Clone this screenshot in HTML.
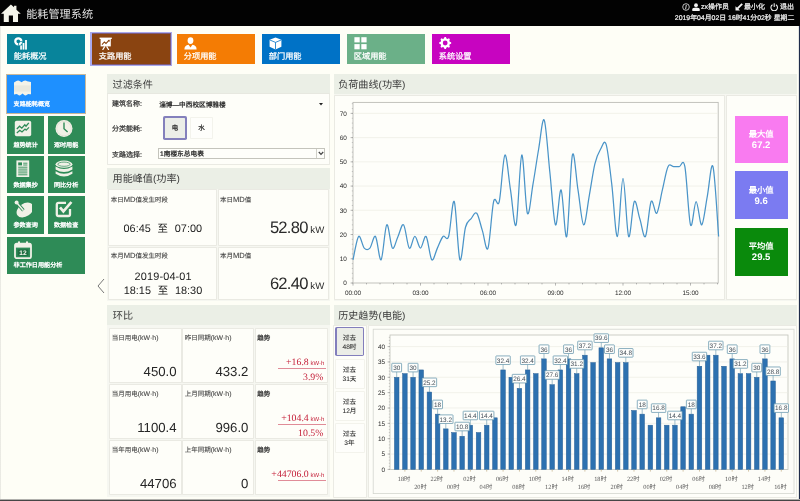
<!DOCTYPE html>
<html lang="zh-CN"><head><meta charset="utf-8"><title>能耗管理系统</title>
<style>
html,body{margin:0;padding:0}
body{width:800px;height:501px;overflow:hidden;position:relative;background:#fefef6;font-family:"Liberation Sans",sans-serif;text-rendering:geometricPrecision}
#root{position:absolute;left:0;top:0;width:800px;height:501px;overflow:hidden;will-change:transform}
#root>div,#root>svg{position:absolute}
.t{white-space:nowrap}
.s{-webkit-text-stroke:0.22px currentColor}
svg text{font-family:"Liberation Sans",sans-serif;text-rendering:geometricPrecision}
</style></head><body><div id="root">
<div style="left:0.00px;top:0.00px;width:800.00px;height:25.70px;background:#020202;"></div>
<svg style="left:1.2px;top:3.5px" width="19.8" height="18" viewBox="0 0 20 18"><path fill="#f4f4ea" d="M10 0.3 L13.2 3.3 L13.2 1.6 L15.6 1.6 L15.6 5.6 L20 9.8 L17.2 9.8 L17.2 18 L12.1 18 L12.1 11.6 L7.9 11.6 L7.9 18 L2.8 18 L2.8 9.8 L0 9.8 Z"/></svg>
<div class="t" style="left:26.20px;top:10.00px;font-size:11.15px;line-height:11.15px;color:#e6e6e6;">能耗管理系统</div>
<svg style="left:682px;top:3px" width="8" height="8" viewBox="0 0 8 8"><circle cx="4" cy="4" r="3.3" fill="none" stroke="#eee" stroke-width="0.8"/><path d="M4.3 2 L3.6 6.2" stroke="#eee" stroke-width="0.9"/></svg>
<svg style="left:692px;top:3px" width="8" height="8" viewBox="0 0 8 8"><circle cx="4" cy="2.2" r="1.9" fill="#f4f4f4"/><path d="M0.3 8 L0.3 6.2 Q0.3 4.4 4 4.4 Q7.7 4.4 7.7 6.2 L7.7 8 Z" fill="#f4f4f4"/></svg>
<div class="t s" style="left:701.00px;top:4.20px;font-size:7px;line-height:7px;color:#f2f2f2;">zx操作员</div>
<svg style="left:735px;top:3.4px" width="8" height="8" viewBox="0 0 8 8"><path d="M0.5 7.6 L0.5 3.2 L5 7.6 Z" fill="#f4f4f4"/><path d="M2.4 5.6 L7.2 0.9" stroke="#f4f4f4" stroke-width="1.9"/></svg>
<div class="t s" style="left:744.00px;top:4.20px;font-size:7px;line-height:7px;color:#f2f2f2;">最小化</div>
<svg style="left:769.6px;top:2.8px" width="8.4" height="8.4" viewBox="0 0 8 8"><path d="M2.4 1.6 A3.1 3.1 0 1 0 5.6 1.6" fill="none" stroke="#f4f4f4" stroke-width="1"/><path d="M4 0.2 L4 3.8" stroke="#f4f4f4" stroke-width="1"/></svg>
<div class="t s" style="left:780.00px;top:4.20px;font-size:7px;line-height:7px;color:#f2f2f2;">退出</div>
<div class="t s" style="right:5.70px;top:16.40px;font-size:6.9px;line-height:6.9px;color:#f2f2f2;">2019年04月02日 16时41分02秒 星期二</div>
<div style="left:7.00px;top:34.00px;width:78.00px;height:30.20px;background:#08849b;"></div>
<svg style="left:13.6px;top:37.1px" width="13" height="13" viewBox="0 0 13 13"><circle cx="4.3" cy="4.3" r="3" fill="none" stroke="#fff" stroke-width="2.3"/><path d="M4.6 4.6 L8.6 4.6 M4.6 4.6 L4.6 8.6" stroke="#08849b" stroke-width="0.8"/><rect x="6.2" y="8.4" width="1.7" height="4.2" fill="#fff"/><rect x="8.6" y="6" width="1.8" height="6.6" fill="#fff"/><rect x="11.1" y="3" width="1.8" height="9.6" fill="#fff"/></svg>
<div class="t s" style="left:13.80px;top:53.10px;font-size:8.2px;line-height:8.2px;color:#fff;">能耗概况</div>
<div style="left:90.30px;top:32.00px;width:81.60px;height:33.80px;background:#a9a9ee;"></div>
<div style="left:91.50px;top:33.20px;width:79.10px;height:31.50px;background:#7d5a7a;"></div>
<div style="left:92.00px;top:34.00px;width:78.00px;height:30.20px;background:#8a4411;"></div>
<svg style="left:98.6px;top:37.1px" width="13" height="13" viewBox="0 0 13 13"><rect x="0.6" y="0.6" width="12.2" height="1.4" fill="#fff"/><rect x="1.6" y="2" width="10.2" height="7.4" fill="#fff"/><path d="M3 7.6 L5.4 5 L7 6.4 L10 3.4" stroke="#8a4411" stroke-width="1.1" fill="none"/><path d="M10.6 2.8 L10.6 5 L8.6 3 Z" fill="#8a4411"/><path d="M5.8 9.4 L3.6 13 M7.6 9.4 L9.8 13" stroke="#fff" stroke-width="1.2"/></svg>
<div class="t s" style="left:98.80px;top:53.10px;font-size:8.2px;line-height:8.2px;color:#fff;">支路用能</div>
<div style="left:177.00px;top:34.00px;width:78.00px;height:30.20px;background:#f47c04;"></div>
<svg style="left:183.6px;top:37.1px" width="13" height="13" viewBox="0 0 13 13"><ellipse cx="6.5" cy="3.6" rx="2.9" ry="3.4" fill="#fff"/><path d="M0.4 12.6 Q0.4 8.2 4.6 7.8 L6.5 10.4 L8.4 7.8 Q12.6 8.2 12.6 12.6 Z" fill="#fff"/></svg>
<div class="t s" style="left:183.80px;top:53.10px;font-size:8.2px;line-height:8.2px;color:#fff;">分项用能</div>
<div style="left:262.00px;top:34.00px;width:78.00px;height:30.20px;background:#0072c6;"></div>
<svg style="left:268.6px;top:37.1px" width="13" height="13" viewBox="0 0 13 13"><path d="M6.5 0.4 L12.4 2.8 L12.4 9.8 L6.5 12.6 L0.6 9.8 L0.6 2.8 Z" fill="#fff"/><path d="M0.9 3 L6.5 5.4 L12.1 3 M6.5 5.4 L6.5 12.4" stroke="#0072c6" stroke-width="0.8" fill="none"/></svg>
<div class="t s" style="left:268.80px;top:53.10px;font-size:8.2px;line-height:8.2px;color:#fff;">部门用能</div>
<div style="left:347.00px;top:34.00px;width:78.00px;height:30.20px;background:#6bb088;"></div>
<svg style="left:353.6px;top:37.1px" width="13" height="13" viewBox="0 0 13 13"><rect x="0.4" y="0.2" width="5.3" height="5.2" fill="#fff"/><rect x="7.3" y="0.2" width="5.3" height="5.2" fill="#fff"/><rect x="0.4" y="7.1" width="5.3" height="5.2" fill="#fff"/><rect x="7.3" y="7.1" width="5.3" height="5.2" fill="#fff"/></svg>
<div class="t s" style="left:353.80px;top:53.10px;font-size:8.2px;line-height:8.2px;color:#fff;">区域用能</div>
<div style="left:432.00px;top:34.00px;width:78.00px;height:30.20px;background:#c704c0;"></div>
<svg style="left:438.6px;top:37.1px" width="13" height="13" viewBox="0 0 13 13"><path d="M12.16 5.34 L12.16 6.66 L10.71 7.31 L10.32 8.26 L10.88 9.75 L9.95 10.68 L8.46 10.12 L7.51 10.51 L6.86 11.96 L5.54 11.96 L4.89 10.51 L3.94 10.12 L2.45 10.68 L1.52 9.75 L2.08 8.26 L1.69 7.31 L0.24 6.66 L0.24 5.34 L1.69 4.69 L2.08 3.74 L1.52 2.25 L2.45 1.32 L3.94 1.88 L4.89 1.49 L5.54 0.04 L6.86 0.04 L7.51 1.49 L8.46 1.88 L9.95 1.32 L10.88 2.25 L10.32 3.74 L10.71 4.69 Z" fill="#fff"/><circle cx="6.2" cy="6.0" r="2.4" fill="#c704c0"/></svg>
<div class="t s" style="left:438.80px;top:53.10px;font-size:8.2px;line-height:8.2px;color:#fff;">系统设置</div>
<div style="left:5.60px;top:73.60px;width:80.80px;height:40.40px;background:#c8b89a;"></div>
<div style="left:6.60px;top:74.60px;width:78.80px;height:38.40px;background:#1e90ff;"></div>
<svg style="left:13.8px;top:80px" width="17.2" height="15.8" viewBox="0 0 17.2 15.8"><path fill="#f3f3e9" d="M0 2.4 L2 1.2 Q4.2 -0.4 6 1.2 L7.6 2.3 L9.4 1.1 Q11.2 -0.4 13.2 1.2 L17.2 2 L17.2 14.4 L15.6 14.2 Q14.2 13.8 13 14.8 Q11.4 16.2 10 14.8 L8.6 13.6 L7 14.8 Q5.4 16.2 4 14.8 Q2.8 13.8 1.4 14.2 L0 14.6 Z"/><path d="M0 5.4 L17.2 5.4 L17.2 11.6 L0 11.6 Z" fill="#e9e9de"/></svg>
<div class="t s" style="left:13.60px;top:101.60px;font-size:6.1px;line-height:6.1px;color:#fff;text-shadow:0 0 0.6px rgba(255,255,255,.75)">支路能耗概览</div>
<div style="left:7.00px;top:116.20px;width:37.30px;height:37.40px;background:#2e8b57;"></div>
<svg style="left:14.0px;top:119.8px" width="18" height="18" viewBox="0 0 18 18"><rect x="0.8" y="0.8" width="16.4" height="15.4" rx="1.8" fill="#f1f1e7"/><path d="M2.8 9 L5.6 6.2 L7.8 8.2 L10.8 4.8 L12 6.2 L14.8 2.8" stroke="#2e8b57" stroke-width="1.3" fill="none"/><path d="M2.8 13 L5.8 10.2 L8 12 L11 9 L12.2 10.2 L15 7.4" stroke="#2e8b57" stroke-width="1.2" fill="none"/></svg>
<div class="t s" style="left:13.40px;top:142.70px;font-size:6.1px;line-height:6.1px;color:#fff;text-shadow:0 0 0.6px rgba(255,255,255,.75)">趋势统计</div>
<div style="left:47.50px;top:116.20px;width:37.30px;height:37.40px;background:#2e8b57;"></div>
<svg style="left:54.5px;top:119.8px" width="18" height="18" viewBox="0 0 18 18"><circle cx="9" cy="8.6" r="8.5" fill="#f1f1e7"/><circle cx="9" cy="8.6" r="7.2" fill="none" stroke="#dcdccf" stroke-width="0.6"/><path d="M9 2.6 L9 8.8 L12.6 12" stroke="#2e8b57" stroke-width="1.4" fill="none"/></svg>
<div class="t s" style="left:53.90px;top:142.70px;font-size:6.1px;line-height:6.1px;color:#fff;text-shadow:0 0 0.6px rgba(255,255,255,.75)">逐时用能</div>
<div style="left:7.00px;top:156.00px;width:37.30px;height:37.40px;background:#2e8b57;"></div>
<svg style="left:14.0px;top:159.6px" width="18" height="18" viewBox="0 0 18 18"><path d="M2.4 0.4 L15.2 0.4 L15.2 17 L2.4 17 Z" fill="#f1f1e7"/><rect x="4.2" y="2.4" width="3.8" height="3" fill="#2e8b57"/><path d="M9.2 3.2 L13.4 3.2 M9.2 5 L13.4 5 M4.2 7.2 L13.4 7.2 M4.2 9.1 L13.4 9.1 M4.2 11 L13.4 11 M4.2 12.9 L13.4 12.9 M4.2 14.8 L13.4 14.8" stroke="#2e8b57" stroke-width="0.9"/></svg>
<div class="t s" style="left:13.40px;top:182.50px;font-size:6.1px;line-height:6.1px;color:#fff;text-shadow:0 0 0.6px rgba(255,255,255,.75)">数据集抄</div>
<div style="left:47.50px;top:156.00px;width:37.30px;height:37.40px;background:#2e8b57;"></div>
<svg style="left:54.5px;top:159.6px" width="18" height="18" viewBox="0 0 18 18"><ellipse cx="9" cy="4.2" rx="8.4" ry="3.6" fill="#f1f1e7"/><path d="M0.6 6.4 Q9 11.6 17.4 6.4 L17.4 9.4 Q9 14.6 0.6 9.4 Z" fill="#f1f1e7"/><path d="M0.6 11.2 Q9 16.4 17.4 11.2 L17.4 13.8 Q9 19.4 0.6 13.8 Z" fill="#f1f1e7"/><ellipse cx="9" cy="4.2" rx="6.2" ry="2.1" fill="none" stroke="#2e8b57" stroke-width="0.7"/></svg>
<div class="t s" style="left:53.90px;top:182.50px;font-size:6.1px;line-height:6.1px;color:#fff;text-shadow:0 0 0.6px rgba(255,255,255,.75)">同比分析</div>
<div style="left:7.00px;top:196.30px;width:37.30px;height:37.40px;background:#2e8b57;"></div>
<svg style="left:14.0px;top:199.9px" width="18" height="18" viewBox="0 0 18 18"><ellipse cx="11" cy="10" rx="9.2" ry="6.4" transform="rotate(-34 11 10)" fill="#f1f1e7"/><path d="M2.6 2.4 L9.4 10.4" stroke="#2e8b57" stroke-width="3.2"/><path d="M2.6 2.4 L9.4 10.4" stroke="#f1f1e7" stroke-width="1.5"/><circle cx="2.6" cy="2.4" r="2" fill="#f1f1e7"/></svg>
<div class="t s" style="left:13.40px;top:222.80px;font-size:6.1px;line-height:6.1px;color:#fff;text-shadow:0 0 0.6px rgba(255,255,255,.75)">参数查询</div>
<div style="left:47.50px;top:196.30px;width:37.30px;height:37.40px;background:#2e8b57;"></div>
<svg style="left:54.5px;top:199.9px" width="18" height="18" viewBox="0 0 18 18"><path d="M15 9 L15 14.2 Q15 16 13.2 16 L3.6 16 Q1.8 16 1.8 14.2 L1.8 4.6 Q1.8 2.8 3.6 2.8 L11 2.8" stroke="#f1f1e7" stroke-width="2.3" fill="none"/><path d="M5 7.4 L8.4 11.4 L16.4 2" stroke="#f1f1e7" stroke-width="2.7" fill="none"/></svg>
<div class="t s" style="left:53.90px;top:222.80px;font-size:6.1px;line-height:6.1px;color:#fff;text-shadow:0 0 0.6px rgba(255,255,255,.75)">数据检查</div>
<div style="left:7.00px;top:236.80px;width:78.20px;height:37.40px;background:#2e8b57;"></div>
<svg style="left:13.6px;top:240.8px" width="18" height="18" viewBox="0 0 18 18"><rect x="1" y="2.6" width="16" height="14.6" rx="1.8" fill="none" stroke="#f1f1e7" stroke-width="1.8"/><rect x="1" y="2.6" width="16" height="4" fill="#f1f1e7"/><rect x="4" y="0.2" width="2" height="3.6" rx="0.8" fill="#f1f1e7"/><rect x="12" y="0.2" width="2" height="3.6" rx="0.8" fill="#f1f1e7"/><rect x="3.6" y="8.4" width="10.8" height="6.4" fill="#1f6e42"/><text x="9" y="14" font-size="6.6" font-weight="bold" text-anchor="middle" fill="#f4f4ea" font-family="Liberation Serif, serif">12</text></svg>
<div class="t s" style="left:13.60px;top:263.30px;font-size:6.1px;line-height:6.1px;color:#fff;text-shadow:0 0 0.6px rgba(255,255,255,.75)">非工作日用能分析</div>
<svg style="left:96px;top:278px" width="10" height="16" viewBox="0 0 10 16"><path d="M8 1 L2 8 L8 15" stroke="#777" stroke-width="1" fill="none"/></svg>
<div style="left:107.00px;top:74.00px;width:223.20px;height:91.00px;background:#f6f7f1;"></div>
<div style="left:107.00px;top:74.00px;width:223.20px;height:19.50px;background:#ebefe6;"></div>
<div class="t" style="left:112.60px;top:80.70px;font-size:10.1px;line-height:10.1px;color:#3a3a3a;">过滤条件</div>
<div style="left:108.40px;top:94.20px;width:220.60px;height:69.40px;background:#fefef9;box-shadow:0 0 0 0.8px #e6e7df;"></div>
<div class="t s" style="left:112.00px;top:101.30px;font-size:7px;line-height:7px;color:#333;">建筑名称:</div>
<div class="t s" style="left:159.20px;top:103.30px;font-size:6.65px;line-height:6.65px;color:#1a1a1a;">淄博—中西校区博雅楼</div>
<svg style="left:319.4px;top:103.4px" width="4" height="3" viewBox="0 0 4 3"><path d="M0 0 L4 0 L2 2.6 Z" fill="#222"/></svg>
<div class="t s" style="left:112.00px;top:126.00px;font-size:7px;line-height:7px;color:#333;">分类能耗:</div>
<div style="left:163.00px;top:116.20px;width:23.80px;height:23.80px;background:#8480bc;border-radius:1.8px"></div>
<div style="left:164.50px;top:117.70px;width:20.80px;height:20.80px;background:#eceee8;border-radius:0.6px"></div>
<div class="t s" style="left:160.00px;width:30px;text-align:center;top:125.90px;font-size:6.5px;line-height:6.5px;color:#222;">电</div>
<div style="left:191.00px;top:117.60px;width:21.40px;height:20.80px;background:#fefefb;box-shadow:0 0 0 0.8px #f0f0e9;"></div>
<div class="t s" style="left:186.60px;width:30px;text-align:center;top:125.90px;font-size:6.5px;line-height:6.5px;color:#222;">水</div>
<div class="t s" style="left:112.00px;top:151.50px;font-size:7px;line-height:7px;color:#333;">支路选择:</div>
<div style="left:158.00px;top:148.00px;width:167.40px;height:11.20px;background:#c4c4bc;"></div>
<div style="left:159.00px;top:149.00px;width:165.40px;height:9.20px;background:#fefefa;"></div>
<div style="left:316.20px;top:149.00px;width:0.80px;height:9.20px;background:#d0d0c8;"></div>
<svg style="left:317.8px;top:151px" width="6" height="5" viewBox="0 0 6 5"><path d="M0.8 1 L3 3.4 L5.2 1" stroke="#444" stroke-width="1.25" fill="none"/></svg>
<div class="t s" style="left:160.00px;top:152.40px;font-size:6.7px;line-height:6.7px;color:#1a1a1a;">1南楼东总电表</div>
<div style="left:107.00px;top:168.00px;width:223.20px;height:133.20px;background:#f6f7f1;"></div>
<div style="left:107.00px;top:168.00px;width:223.20px;height:21.00px;background:#ebefe6;"></div>
<div class="t" style="left:112.60px;top:175.20px;font-size:10.1px;line-height:10.1px;color:#3a3a3a;">用能峰值(功率)</div>
<div style="left:109.00px;top:190.20px;width:107.40px;height:54.80px;background:#fefef9;box-shadow:0 0 0 0.8px #e6e7df;"></div>
<div style="left:218.60px;top:190.20px;width:109.00px;height:54.80px;background:#fefef9;box-shadow:0 0 0 0.8px #e6e7df;"></div>
<div style="left:109.00px;top:247.80px;width:107.40px;height:51.40px;background:#fefef9;box-shadow:0 0 0 0.8px #e6e7df;"></div>
<div style="left:218.60px;top:247.80px;width:109.00px;height:51.40px;background:#fefef9;box-shadow:0 0 0 0.8px #e6e7df;"></div>
<div class="t s" style="left:110.80px;top:196.60px;font-size:6.5px;line-height:6.5px;color:#3a3a3a;-webkit-text-stroke:0.07px currentColor">本日<span style="font-size:7.6px">MD</span>值发生时段</div>
<div class="t s" style="left:219.90px;top:196.60px;font-size:6.5px;line-height:6.5px;color:#3a3a3a;-webkit-text-stroke:0.07px currentColor">本日<span style="font-size:7.6px">MD</span>值</div>
<div class="t s" style="left:110.80px;top:253.30px;font-size:6.5px;line-height:6.5px;color:#3a3a3a;-webkit-text-stroke:0.07px currentColor">本月<span style="font-size:7.6px">MD</span>值发生时段</div>
<div class="t s" style="left:219.90px;top:253.30px;font-size:6.5px;line-height:6.5px;color:#3a3a3a;-webkit-text-stroke:0.07px currentColor">本月<span style="font-size:7.6px">MD</span>值</div>
<div class="t" style="left:62.80px;width:200px;text-align:center;top:223.60px;font-size:10.9px;line-height:10.9px;color:#222;">06:45<span style="margin:0 6.8px;font-size:10.4px">至</span>07:00</div>
<div class="t" style="left:63.20px;width:200px;text-align:center;top:272.20px;font-size:10.9px;line-height:10.9px;color:#222;letter-spacing:0.15px">2019-04-01</div>
<div class="t" style="left:63.00px;width:200px;text-align:center;top:285.90px;font-size:10.9px;line-height:10.9px;color:#222;">18:15<span style="margin:0 6.8px;font-size:10.4px">至</span>18:30</div>
<div class="t" style="right:475.80px;top:219.60px;font-size:16.6px;line-height:16.6px;color:#2a2a2a;"><span style="letter-spacing:-0.75px">52.80</span><span style="font-size:9.6px"> kW</span></div>
<div class="t" style="right:475.80px;top:276.40px;font-size:16.6px;line-height:16.6px;color:#2a2a2a;"><span style="letter-spacing:-0.75px">62.40</span><span style="font-size:9.6px"> kW</span></div>
<div style="left:107.00px;top:305.20px;width:223.20px;height:192.20px;background:#f6f7f1;"></div>
<div style="left:107.00px;top:305.20px;width:223.20px;height:19.60px;background:#ebefe6;"></div>
<div class="t" style="left:112.80px;top:311.90px;font-size:10.1px;line-height:10.1px;color:#3a3a3a;">环比</div>
<div style="left:110.40px;top:328.60px;width:70.40px;height:53.40px;background:#fefef9;box-shadow:0 0 0 0.8px #e6e7df;"></div>
<div style="left:183.40px;top:328.60px;width:69.20px;height:53.40px;background:#fefef9;box-shadow:0 0 0 0.8px #e6e7df;"></div>
<div style="left:255.60px;top:328.60px;width:71.20px;height:53.40px;background:#fefef9;box-shadow:0 0 0 0.8px #e6e7df;"></div>
<div style="left:110.40px;top:384.60px;width:70.40px;height:53.00px;background:#fefef9;box-shadow:0 0 0 0.8px #e6e7df;"></div>
<div style="left:183.40px;top:384.60px;width:69.20px;height:53.00px;background:#fefef9;box-shadow:0 0 0 0.8px #e6e7df;"></div>
<div style="left:255.60px;top:384.60px;width:71.20px;height:53.00px;background:#fefef9;box-shadow:0 0 0 0.8px #e6e7df;"></div>
<div style="left:110.40px;top:440.60px;width:70.40px;height:53.40px;background:#fefef9;box-shadow:0 0 0 0.8px #e6e7df;"></div>
<div style="left:183.40px;top:440.60px;width:69.20px;height:53.40px;background:#fefef9;box-shadow:0 0 0 0.8px #e6e7df;"></div>
<div style="left:255.60px;top:440.60px;width:71.20px;height:53.40px;background:#fefef9;box-shadow:0 0 0 0.8px #e6e7df;"></div>
<div class="t s" style="left:111.80px;top:335.50px;font-size:6.5px;line-height:6.5px;color:#3a3a3a;-webkit-text-stroke:0.07px currentColor">当日用电<span style="font-size:6.9px">(kW·h)</span></div>
<div class="t" style="right:623.40px;top:364.80px;font-size:13.2px;line-height:13.2px;color:#262626;">450.0</div>
<div class="t s" style="left:184.80px;top:335.50px;font-size:6.5px;line-height:6.5px;color:#3a3a3a;-webkit-text-stroke:0.07px currentColor">昨日同期<span style="font-size:6.9px">(kW·h)</span></div>
<div class="t" style="right:551.60px;top:364.80px;font-size:13.2px;line-height:13.2px;color:#262626;">433.2</div>
<div class="t s" style="left:257.20px;top:336.00px;font-size:6.5px;line-height:6.5px;color:#2a2a2a;">趋势</div>
<div class="t" style="right:475.60px;top:358.40px;font-size:9.8px;line-height:9.8px;color:#c4203a;font-family:'Liberation Serif',serif">+16.8<span style="font-size:6px;font-family:'Liberation Sans',sans-serif"> kW·h</span></div>
<div style="left:277.60px;top:368.10px;width:48.00px;height:0.60px;background:#e08c98;"></div>
<div class="t" style="right:476.60px;top:372.60px;font-size:9.8px;line-height:9.8px;color:#c4203a;font-family:'Liberation Serif',serif">3.9%</div>
<div class="t s" style="left:111.80px;top:391.50px;font-size:6.5px;line-height:6.5px;color:#3a3a3a;-webkit-text-stroke:0.07px currentColor">当月用电<span style="font-size:6.9px">(kW·h)</span></div>
<div class="t" style="right:623.40px;top:420.80px;font-size:13.2px;line-height:13.2px;color:#262626;">1100.4</div>
<div class="t s" style="left:184.80px;top:391.50px;font-size:6.5px;line-height:6.5px;color:#3a3a3a;-webkit-text-stroke:0.07px currentColor">上月同期<span style="font-size:6.9px">(kW·h)</span></div>
<div class="t" style="right:551.60px;top:420.80px;font-size:13.2px;line-height:13.2px;color:#262626;">996.0</div>
<div class="t s" style="left:257.20px;top:392.00px;font-size:6.5px;line-height:6.5px;color:#2a2a2a;">趋势</div>
<div class="t" style="right:475.60px;top:414.40px;font-size:9.8px;line-height:9.8px;color:#c4203a;font-family:'Liberation Serif',serif">+104.4<span style="font-size:6px;font-family:'Liberation Sans',sans-serif"> kW·h</span></div>
<div style="left:277.60px;top:424.10px;width:48.00px;height:0.60px;background:#e08c98;"></div>
<div class="t" style="right:476.60px;top:428.60px;font-size:9.8px;line-height:9.8px;color:#c4203a;font-family:'Liberation Serif',serif">10.5%</div>
<div class="t s" style="left:111.80px;top:447.50px;font-size:6.5px;line-height:6.5px;color:#3a3a3a;-webkit-text-stroke:0.07px currentColor">当年用电<span style="font-size:6.9px">(kW·h)</span></div>
<div class="t" style="right:623.40px;top:476.80px;font-size:13.2px;line-height:13.2px;color:#262626;">44706</div>
<div class="t s" style="left:184.80px;top:447.50px;font-size:6.5px;line-height:6.5px;color:#3a3a3a;-webkit-text-stroke:0.07px currentColor">上年同期<span style="font-size:6.9px">(kW·h)</span></div>
<div class="t" style="right:551.60px;top:476.80px;font-size:13.2px;line-height:13.2px;color:#262626;">0</div>
<div class="t s" style="left:257.20px;top:448.00px;font-size:6.5px;line-height:6.5px;color:#2a2a2a;">趋势</div>
<div class="t" style="right:475.60px;top:470.40px;font-size:9.8px;line-height:9.8px;color:#c4203a;font-family:'Liberation Serif',serif">+44706.0<span style="font-size:6px;font-family:'Liberation Sans',sans-serif"> kW·h</span></div>
<div style="left:277.60px;top:480.10px;width:48.00px;height:0.60px;background:#e08c98;"></div>
<div style="left:334.00px;top:74.00px;width:463.40px;height:227.20px;background:#f6f7f1;"></div>
<div style="left:334.00px;top:74.00px;width:463.40px;height:19.50px;background:#ebefe6;"></div>
<div class="t" style="left:338.20px;top:80.70px;font-size:10.1px;line-height:10.1px;color:#3a3a3a;">负荷曲线(功率)</div>
<div style="left:335.20px;top:95.60px;width:389.20px;height:203.40px;background:#fefef9;box-shadow:0 0 0 0.8px #e6e7df;"></div>
<div style="left:726.80px;top:95.80px;width:69.00px;height:203.20px;background:#fefef9;box-shadow:0 0 0 0.8px #e6e7df;"></div>
<div style="left:334.00px;top:305.20px;width:463.40px;height:192.40px;background:#f6f7f1;"></div>
<div style="left:334.00px;top:305.20px;width:463.40px;height:19.60px;background:#ebefe6;"></div>
<div class="t" style="left:338.20px;top:312.20px;font-size:10.1px;line-height:10.1px;color:#3a3a3a;">历史趋势(电能)</div>
<div style="left:334.00px;top:326.40px;width:32.40px;height:170.40px;background:#fefef9;box-shadow:0 0 0 0.8px #e6e7df;"></div>
<div style="left:369.00px;top:326.40px;width:426.80px;height:170.20px;background:#fefef9;box-shadow:0 0 0 0.8px #e6e7df;"></div>
<svg style="left:0;top:0" width="800" height="501" viewBox="0 0 800 501"><rect x="353" y="102.4" width="365.2" height="180.6" fill="#fefefa" stroke="#bcbcb6" stroke-width="0.9"/><path d="M353.4 258.77 L717.8 258.77" stroke="#ecece4" stroke-width="0.7"/><path d="M353.4 234.54 L717.8 234.54" stroke="#ecece4" stroke-width="0.7"/><path d="M353.4 210.31 L717.8 210.31" stroke="#ecece4" stroke-width="0.7"/><path d="M353.4 186.08 L717.8 186.08" stroke="#ecece4" stroke-width="0.7"/><path d="M353.4 161.85 L717.8 161.85" stroke="#ecece4" stroke-width="0.7"/><path d="M353.4 137.62 L717.8 137.62" stroke="#ecece4" stroke-width="0.7"/><path d="M353.4 113.39 L717.8 113.39" stroke="#ecece4" stroke-width="0.7"/><path d="M350.6 283.00 L353 283.00" stroke="#888" stroke-width="0.6"/><text x="346.8" y="285.30" font-size="6.4" text-anchor="end" fill="#2a2a2a">0</text><path d="M350.6 258.77 L353 258.77" stroke="#888" stroke-width="0.6"/><text x="346.8" y="261.07" font-size="6.4" text-anchor="end" fill="#2a2a2a">10</text><path d="M350.6 234.54 L353 234.54" stroke="#888" stroke-width="0.6"/><text x="346.8" y="236.84" font-size="6.4" text-anchor="end" fill="#2a2a2a">20</text><path d="M350.6 210.31 L353 210.31" stroke="#888" stroke-width="0.6"/><text x="346.8" y="212.61" font-size="6.4" text-anchor="end" fill="#2a2a2a">30</text><path d="M350.6 186.08 L353 186.08" stroke="#888" stroke-width="0.6"/><text x="346.8" y="188.38" font-size="6.4" text-anchor="end" fill="#2a2a2a">40</text><path d="M350.6 161.85 L353 161.85" stroke="#888" stroke-width="0.6"/><text x="346.8" y="164.15" font-size="6.4" text-anchor="end" fill="#2a2a2a">50</text><path d="M350.6 137.62 L353 137.62" stroke="#888" stroke-width="0.6"/><text x="346.8" y="139.92" font-size="6.4" text-anchor="end" fill="#2a2a2a">60</text><path d="M350.6 113.39 L353 113.39" stroke="#888" stroke-width="0.6"/><text x="346.8" y="115.69" font-size="6.4" text-anchor="end" fill="#2a2a2a">70</text><path d="M351.8 283.00 L353 283.00" stroke="#999" stroke-width="0.5"/><path d="M351.8 278.15 L353 278.15" stroke="#999" stroke-width="0.5"/><path d="M351.8 273.31 L353 273.31" stroke="#999" stroke-width="0.5"/><path d="M351.8 268.46 L353 268.46" stroke="#999" stroke-width="0.5"/><path d="M351.8 263.62 L353 263.62" stroke="#999" stroke-width="0.5"/><path d="M351.8 258.77 L353 258.77" stroke="#999" stroke-width="0.5"/><path d="M351.8 253.92 L353 253.92" stroke="#999" stroke-width="0.5"/><path d="M351.8 249.08 L353 249.08" stroke="#999" stroke-width="0.5"/><path d="M351.8 244.23 L353 244.23" stroke="#999" stroke-width="0.5"/><path d="M351.8 239.39 L353 239.39" stroke="#999" stroke-width="0.5"/><path d="M351.8 234.54 L353 234.54" stroke="#999" stroke-width="0.5"/><path d="M351.8 229.69 L353 229.69" stroke="#999" stroke-width="0.5"/><path d="M351.8 224.85 L353 224.85" stroke="#999" stroke-width="0.5"/><path d="M351.8 220.00 L353 220.00" stroke="#999" stroke-width="0.5"/><path d="M351.8 215.16 L353 215.16" stroke="#999" stroke-width="0.5"/><path d="M351.8 210.31 L353 210.31" stroke="#999" stroke-width="0.5"/><path d="M351.8 205.46 L353 205.46" stroke="#999" stroke-width="0.5"/><path d="M351.8 200.62 L353 200.62" stroke="#999" stroke-width="0.5"/><path d="M351.8 195.77 L353 195.77" stroke="#999" stroke-width="0.5"/><path d="M351.8 190.93 L353 190.93" stroke="#999" stroke-width="0.5"/><path d="M351.8 186.08 L353 186.08" stroke="#999" stroke-width="0.5"/><path d="M351.8 181.23 L353 181.23" stroke="#999" stroke-width="0.5"/><path d="M351.8 176.39 L353 176.39" stroke="#999" stroke-width="0.5"/><path d="M351.8 171.54 L353 171.54" stroke="#999" stroke-width="0.5"/><path d="M351.8 166.70 L353 166.70" stroke="#999" stroke-width="0.5"/><path d="M351.8 161.85 L353 161.85" stroke="#999" stroke-width="0.5"/><path d="M351.8 157.00 L353 157.00" stroke="#999" stroke-width="0.5"/><path d="M351.8 152.16 L353 152.16" stroke="#999" stroke-width="0.5"/><path d="M351.8 147.31 L353 147.31" stroke="#999" stroke-width="0.5"/><path d="M351.8 142.47 L353 142.47" stroke="#999" stroke-width="0.5"/><path d="M351.8 137.62 L353 137.62" stroke="#999" stroke-width="0.5"/><path d="M351.8 132.77 L353 132.77" stroke="#999" stroke-width="0.5"/><path d="M351.8 127.93 L353 127.93" stroke="#999" stroke-width="0.5"/><path d="M351.8 123.08 L353 123.08" stroke="#999" stroke-width="0.5"/><path d="M351.8 118.24 L353 118.24" stroke="#999" stroke-width="0.5"/><path d="M351.8 113.39 L353 113.39" stroke="#999" stroke-width="0.5"/><path d="M351.8 108.54 L353 108.54" stroke="#999" stroke-width="0.5"/><path d="M351.8 103.70 L353 103.70" stroke="#999" stroke-width="0.5"/><path d="M353.00 283 L353.00 285.6" stroke="#888" stroke-width="0.6"/><text x="353.00" y="294.6" font-size="6.4" text-anchor="middle" fill="#2a2a2a">00:00</text><path d="M366.50 283 L366.50 284.4" stroke="#888" stroke-width="0.6"/><path d="M380.00 283 L380.00 284.4" stroke="#888" stroke-width="0.6"/><path d="M393.50 283 L393.50 284.4" stroke="#888" stroke-width="0.6"/><path d="M407.00 283 L407.00 284.4" stroke="#888" stroke-width="0.6"/><path d="M420.50 283 L420.50 285.6" stroke="#888" stroke-width="0.6"/><text x="420.50" y="294.6" font-size="6.4" text-anchor="middle" fill="#2a2a2a">03:00</text><path d="M434.00 283 L434.00 284.4" stroke="#888" stroke-width="0.6"/><path d="M447.50 283 L447.50 284.4" stroke="#888" stroke-width="0.6"/><path d="M461.00 283 L461.00 284.4" stroke="#888" stroke-width="0.6"/><path d="M474.50 283 L474.50 284.4" stroke="#888" stroke-width="0.6"/><path d="M488.00 283 L488.00 285.6" stroke="#888" stroke-width="0.6"/><text x="488.00" y="294.6" font-size="6.4" text-anchor="middle" fill="#2a2a2a">06:00</text><path d="M501.50 283 L501.50 284.4" stroke="#888" stroke-width="0.6"/><path d="M515.00 283 L515.00 284.4" stroke="#888" stroke-width="0.6"/><path d="M528.50 283 L528.50 284.4" stroke="#888" stroke-width="0.6"/><path d="M542.00 283 L542.00 284.4" stroke="#888" stroke-width="0.6"/><path d="M555.50 283 L555.50 285.6" stroke="#888" stroke-width="0.6"/><text x="555.50" y="294.6" font-size="6.4" text-anchor="middle" fill="#2a2a2a">09:00</text><path d="M569.00 283 L569.00 284.4" stroke="#888" stroke-width="0.6"/><path d="M582.50 283 L582.50 284.4" stroke="#888" stroke-width="0.6"/><path d="M596.00 283 L596.00 284.4" stroke="#888" stroke-width="0.6"/><path d="M609.50 283 L609.50 284.4" stroke="#888" stroke-width="0.6"/><path d="M623.00 283 L623.00 285.6" stroke="#888" stroke-width="0.6"/><text x="623.00" y="294.6" font-size="6.4" text-anchor="middle" fill="#2a2a2a">12:00</text><path d="M636.50 283 L636.50 284.4" stroke="#888" stroke-width="0.6"/><path d="M650.00 283 L650.00 284.4" stroke="#888" stroke-width="0.6"/><path d="M663.50 283 L663.50 284.4" stroke="#888" stroke-width="0.6"/><path d="M677.00 283 L677.00 284.4" stroke="#888" stroke-width="0.6"/><path d="M690.50 283 L690.50 285.6" stroke="#888" stroke-width="0.6"/><text x="690.50" y="294.6" font-size="6.4" text-anchor="middle" fill="#2a2a2a">15:00</text><path d="M704.00 283 L704.00 284.4" stroke="#888" stroke-width="0.6"/><path d="M717.50 283 L717.50 284.4" stroke="#888" stroke-width="0.6"/><path d="M353.00 259.74 C353.94 255.86 356.75 238.42 358.62 236.48 C360.50 234.54 362.38 246.17 364.25 248.11 C366.12 250.05 368.00 250.05 369.88 248.11 C371.75 246.17 373.62 234.54 375.50 236.48 C377.38 238.42 379.25 261.68 381.12 259.74 C383.00 257.80 384.88 226.79 386.75 224.85 C388.62 222.91 390.50 246.17 392.38 248.11 C394.25 250.05 396.12 240.36 398.00 236.48 C399.88 232.60 401.75 222.91 403.62 224.85 C405.50 226.79 407.38 246.17 409.25 248.11 C411.12 250.05 413.00 236.48 414.88 236.48 C416.75 236.48 418.62 248.11 420.50 248.11 C422.38 248.11 424.25 234.54 426.12 236.48 C428.00 238.42 429.88 257.80 431.75 259.74 C433.62 261.68 435.50 251.99 437.38 248.11 C439.25 244.23 441.12 238.42 443.00 236.48 C444.88 234.54 446.75 242.29 448.62 236.48 C450.50 230.66 452.38 197.71 454.25 201.59 C456.12 205.46 458.00 255.46 459.88 259.74 C461.75 264.02 463.62 234.14 465.50 227.27 C467.38 220.41 469.25 220.89 471.12 218.55 C473.00 216.21 474.88 211.20 476.75 213.22 C478.62 215.24 480.50 224.85 482.38 230.66 C484.25 236.48 486.12 252.95 488.00 248.11 C489.88 243.26 491.75 209.34 493.62 201.59 C495.50 193.83 497.38 209.34 499.25 201.59 C501.12 193.83 503.00 157.00 504.88 155.07 C506.75 153.13 508.62 178.33 510.50 189.96 C512.38 201.59 514.25 230.66 516.12 224.85 C518.00 219.03 519.88 157.00 521.75 155.07 C523.62 153.13 525.50 208.37 527.38 213.22 C529.25 218.06 531.12 194.80 533.00 184.14 C534.88 173.48 536.75 159.91 538.62 149.25 C540.50 138.59 542.38 116.30 544.25 120.17 C546.12 124.05 548.00 155.07 549.88 172.51 C551.75 189.96 553.62 221.94 555.50 224.85 C557.38 227.76 559.25 188.02 561.12 189.96 C563.00 191.90 564.88 242.29 566.75 236.48 C568.62 230.66 570.50 162.82 572.38 155.07 C574.25 147.31 576.12 178.33 578.00 189.96 C579.88 201.59 581.75 223.88 583.62 224.85 C585.50 225.82 587.38 205.95 589.25 195.77 C591.12 185.60 593.00 171.54 594.88 163.79 C596.75 156.03 598.62 152.48 600.50 149.25 C602.38 146.02 604.25 138.59 606.12 144.40 C608.00 150.22 609.88 168.80 611.75 184.14 C613.62 199.49 615.50 237.45 617.38 236.48 C619.25 235.51 621.12 178.33 623.00 178.33 C624.88 178.33 626.75 232.60 628.62 236.48 C630.50 240.36 632.38 204.49 634.25 201.59 C636.12 198.68 638.00 213.22 639.88 219.03 C641.75 224.85 643.62 239.39 645.50 236.48 C647.38 233.57 649.25 205.46 651.12 201.59 C653.00 197.71 654.88 215.16 656.75 213.22 C658.62 211.28 660.50 197.71 662.38 189.96 C664.25 182.20 666.12 170.57 668.00 166.70 C669.88 162.82 671.75 166.70 673.62 166.70 C675.50 166.70 677.38 166.70 679.25 166.70 C681.12 166.70 683.00 157.00 684.88 166.70 C686.75 176.39 688.62 219.03 690.50 224.85 C692.38 230.66 694.25 201.59 696.12 201.59 C698.00 201.59 699.88 225.82 701.75 224.85 C703.62 223.88 705.50 205.46 707.38 195.77 C709.25 186.08 711.12 159.91 713.00 166.70 C714.88 173.48 717.69 224.85 718.62 236.48" fill="none" stroke="#4a94c8" stroke-width="1.25" stroke-linejoin="round"/></svg>
<div style="left:734.60px;top:115.50px;width:53.20px;height:47.50px;background:#f97bf0;"></div>
<div class="t s" style="left:731.10px;width:60px;text-align:center;top:129.70px;font-size:8.3px;line-height:8.3px;color:#fff;font-weight:bold;-webkit-text-stroke:0">最大值</div>
<div class="t" style="left:731.10px;width:60px;text-align:center;top:140.70px;font-size:9.5px;line-height:9.5px;color:#fff;font-weight:bold">67.2</div>
<div style="left:734.60px;top:171.40px;width:53.20px;height:47.50px;background:#7b7bf1;"></div>
<div class="t s" style="left:731.10px;width:60px;text-align:center;top:185.60px;font-size:8.3px;line-height:8.3px;color:#fff;font-weight:bold;-webkit-text-stroke:0">最小值</div>
<div class="t" style="left:731.10px;width:60px;text-align:center;top:196.60px;font-size:9.5px;line-height:9.5px;color:#fff;font-weight:bold">9.6</div>
<div style="left:734.60px;top:228.20px;width:53.20px;height:47.50px;background:#0a8a0c;"></div>
<div class="t s" style="left:731.10px;width:60px;text-align:center;top:242.40px;font-size:8.3px;line-height:8.3px;color:#fff;font-weight:bold;-webkit-text-stroke:0">平均值</div>
<div class="t" style="left:731.10px;width:60px;text-align:center;top:253.40px;font-size:9.5px;line-height:9.5px;color:#fff;font-weight:bold">29.5</div>
<div style="left:335.40px;top:326.60px;width:28.80px;height:29.60px;background:#827ebc;border-radius:1.8px"></div>
<div style="left:336.80px;top:328.00px;width:26.00px;height:26.80px;background:#ebede7;border-radius:0.6px"></div>
<div class="t s" style="left:329.50px;width:40px;text-align:center;top:335.70px;font-size:6.6px;line-height:6.6px;color:#2a2a2a;-webkit-text-stroke:0.08px currentColor">过去</div>
<div class="t s" style="left:329.50px;width:40px;text-align:center;top:344.50px;font-size:6.6px;line-height:6.6px;color:#2a2a2a;-webkit-text-stroke:0.08px currentColor">48时</div>
<div style="left:336.00px;top:359.80px;width:27.60px;height:27.80px;background:#fefefb;box-shadow:0 0 0 0.7px #eeeee7;"></div>
<div class="t s" style="left:329.50px;width:40px;text-align:center;top:367.90px;font-size:6.6px;line-height:6.6px;color:#2a2a2a;-webkit-text-stroke:0.08px currentColor">过去</div>
<div class="t s" style="left:329.50px;width:40px;text-align:center;top:376.70px;font-size:6.6px;line-height:6.6px;color:#2a2a2a;-webkit-text-stroke:0.08px currentColor">31天</div>
<div style="left:336.00px;top:391.90px;width:27.60px;height:27.80px;background:#fefefb;box-shadow:0 0 0 0.7px #eeeee7;"></div>
<div class="t s" style="left:329.50px;width:40px;text-align:center;top:400.00px;font-size:6.6px;line-height:6.6px;color:#2a2a2a;-webkit-text-stroke:0.08px currentColor">过去</div>
<div class="t s" style="left:329.50px;width:40px;text-align:center;top:408.80px;font-size:6.6px;line-height:6.6px;color:#2a2a2a;-webkit-text-stroke:0.08px currentColor">12月</div>
<div style="left:336.00px;top:424.00px;width:27.60px;height:27.80px;background:#fefefb;box-shadow:0 0 0 0.7px #eeeee7;"></div>
<div class="t s" style="left:329.50px;width:40px;text-align:center;top:432.10px;font-size:6.6px;line-height:6.6px;color:#2a2a2a;-webkit-text-stroke:0.08px currentColor">过去</div>
<div class="t s" style="left:329.50px;width:40px;text-align:center;top:440.90px;font-size:6.6px;line-height:6.6px;color:#2a2a2a;-webkit-text-stroke:0.08px currentColor">3年</div>
<svg style="left:0;top:0" width="800" height="501" viewBox="0 0 800 501"><rect x="373.2" y="329.2" width="420.8" height="164.4" fill="#fdfdf8" stroke="#d4d6cf" stroke-width="0.8"/><rect x="390" y="335" width="398" height="134.4" fill="#fefefa" stroke="#c0c2ba" stroke-width="0.8"/><path d="M390.4 454.05 L787.6 454.05" stroke="#ecece4" stroke-width="0.7"/><path d="M390.4 438.70 L787.6 438.70" stroke="#ecece4" stroke-width="0.7"/><path d="M390.4 423.35 L787.6 423.35" stroke="#ecece4" stroke-width="0.7"/><path d="M390.4 408.00 L787.6 408.00" stroke="#ecece4" stroke-width="0.7"/><path d="M390.4 392.65 L787.6 392.65" stroke="#ecece4" stroke-width="0.7"/><path d="M390.4 377.30 L787.6 377.30" stroke="#ecece4" stroke-width="0.7"/><path d="M390.4 361.95 L787.6 361.95" stroke="#ecece4" stroke-width="0.7"/><path d="M390.4 346.60 L787.6 346.60" stroke="#ecece4" stroke-width="0.7"/><path d="M387.6 469.40 L390 469.40" stroke="#888" stroke-width="0.6"/><text x="385.0" y="471.70" font-size="6.4" text-anchor="end" fill="#2a2a2a">0</text><path d="M387.6 454.05 L390 454.05" stroke="#888" stroke-width="0.6"/><text x="385.0" y="456.35" font-size="6.4" text-anchor="end" fill="#2a2a2a">5</text><path d="M387.6 438.70 L390 438.70" stroke="#888" stroke-width="0.6"/><text x="385.0" y="441.00" font-size="6.4" text-anchor="end" fill="#2a2a2a">10</text><path d="M387.6 423.35 L390 423.35" stroke="#888" stroke-width="0.6"/><text x="385.0" y="425.65" font-size="6.4" text-anchor="end" fill="#2a2a2a">15</text><path d="M387.6 408.00 L390 408.00" stroke="#888" stroke-width="0.6"/><text x="385.0" y="410.30" font-size="6.4" text-anchor="end" fill="#2a2a2a">20</text><path d="M387.6 392.65 L390 392.65" stroke="#888" stroke-width="0.6"/><text x="385.0" y="394.95" font-size="6.4" text-anchor="end" fill="#2a2a2a">25</text><path d="M387.6 377.30 L390 377.30" stroke="#888" stroke-width="0.6"/><text x="385.0" y="379.60" font-size="6.4" text-anchor="end" fill="#2a2a2a">30</text><path d="M387.6 361.95 L390 361.95" stroke="#888" stroke-width="0.6"/><text x="385.0" y="364.25" font-size="6.4" text-anchor="end" fill="#2a2a2a">35</text><path d="M387.6 346.60 L390 346.60" stroke="#888" stroke-width="0.6"/><text x="385.0" y="348.90" font-size="6.4" text-anchor="end" fill="#2a2a2a">40</text><path d="M388.8 469.40 L390 469.40" stroke="#999" stroke-width="0.45"/><path d="M388.8 466.33 L390 466.33" stroke="#999" stroke-width="0.45"/><path d="M388.8 463.26 L390 463.26" stroke="#999" stroke-width="0.45"/><path d="M388.8 460.19 L390 460.19" stroke="#999" stroke-width="0.45"/><path d="M388.8 457.12 L390 457.12" stroke="#999" stroke-width="0.45"/><path d="M388.8 454.05 L390 454.05" stroke="#999" stroke-width="0.45"/><path d="M388.8 450.98 L390 450.98" stroke="#999" stroke-width="0.45"/><path d="M388.8 447.91 L390 447.91" stroke="#999" stroke-width="0.45"/><path d="M388.8 444.84 L390 444.84" stroke="#999" stroke-width="0.45"/><path d="M388.8 441.77 L390 441.77" stroke="#999" stroke-width="0.45"/><path d="M388.8 438.70 L390 438.70" stroke="#999" stroke-width="0.45"/><path d="M388.8 435.63 L390 435.63" stroke="#999" stroke-width="0.45"/><path d="M388.8 432.56 L390 432.56" stroke="#999" stroke-width="0.45"/><path d="M388.8 429.49 L390 429.49" stroke="#999" stroke-width="0.45"/><path d="M388.8 426.42 L390 426.42" stroke="#999" stroke-width="0.45"/><path d="M388.8 423.35 L390 423.35" stroke="#999" stroke-width="0.45"/><path d="M388.8 420.28 L390 420.28" stroke="#999" stroke-width="0.45"/><path d="M388.8 417.21 L390 417.21" stroke="#999" stroke-width="0.45"/><path d="M388.8 414.14 L390 414.14" stroke="#999" stroke-width="0.45"/><path d="M388.8 411.07 L390 411.07" stroke="#999" stroke-width="0.45"/><path d="M388.8 408.00 L390 408.00" stroke="#999" stroke-width="0.45"/><path d="M388.8 404.93 L390 404.93" stroke="#999" stroke-width="0.45"/><path d="M388.8 401.86 L390 401.86" stroke="#999" stroke-width="0.45"/><path d="M388.8 398.79 L390 398.79" stroke="#999" stroke-width="0.45"/><path d="M388.8 395.72 L390 395.72" stroke="#999" stroke-width="0.45"/><path d="M388.8 392.65 L390 392.65" stroke="#999" stroke-width="0.45"/><path d="M388.8 389.58 L390 389.58" stroke="#999" stroke-width="0.45"/><path d="M388.8 386.51 L390 386.51" stroke="#999" stroke-width="0.45"/><path d="M388.8 383.44 L390 383.44" stroke="#999" stroke-width="0.45"/><path d="M388.8 380.37 L390 380.37" stroke="#999" stroke-width="0.45"/><path d="M388.8 377.30 L390 377.30" stroke="#999" stroke-width="0.45"/><path d="M388.8 374.23 L390 374.23" stroke="#999" stroke-width="0.45"/><path d="M388.8 371.16 L390 371.16" stroke="#999" stroke-width="0.45"/><path d="M388.8 368.09 L390 368.09" stroke="#999" stroke-width="0.45"/><path d="M388.8 365.02 L390 365.02" stroke="#999" stroke-width="0.45"/><path d="M388.8 361.95 L390 361.95" stroke="#999" stroke-width="0.45"/><path d="M388.8 358.88 L390 358.88" stroke="#999" stroke-width="0.45"/><path d="M388.8 355.81 L390 355.81" stroke="#999" stroke-width="0.45"/><path d="M388.8 352.74 L390 352.74" stroke="#999" stroke-width="0.45"/><path d="M388.8 349.67 L390 349.67" stroke="#999" stroke-width="0.45"/><path d="M388.8 346.60 L390 346.60" stroke="#999" stroke-width="0.45"/><path d="M388.8 343.53 L390 343.53" stroke="#999" stroke-width="0.45"/><path d="M388.8 340.46 L390 340.46" stroke="#999" stroke-width="0.45"/><path d="M388.8 337.39 L390 337.39" stroke="#999" stroke-width="0.45"/><rect x="394.40" y="377.30" width="4.6" height="92.10" fill="#2d71b0" stroke="#2a6096" stroke-width="0.5"/><rect x="402.58" y="373.62" width="4.6" height="95.78" fill="#2d71b0" stroke="#2a6096" stroke-width="0.5"/><rect x="410.77" y="377.30" width="4.6" height="92.10" fill="#2d71b0" stroke="#2a6096" stroke-width="0.5"/><rect x="418.95" y="369.93" width="4.6" height="99.47" fill="#2d71b0" stroke="#2a6096" stroke-width="0.5"/><rect x="427.13" y="392.04" width="4.6" height="77.36" fill="#2d71b0" stroke="#2a6096" stroke-width="0.5"/><rect x="435.31" y="414.14" width="4.6" height="55.26" fill="#2d71b0" stroke="#2a6096" stroke-width="0.5"/><rect x="443.50" y="428.88" width="4.6" height="40.52" fill="#2d71b0" stroke="#2a6096" stroke-width="0.5"/><rect x="451.68" y="432.56" width="4.6" height="36.84" fill="#2d71b0" stroke="#2a6096" stroke-width="0.5"/><rect x="459.86" y="436.24" width="4.6" height="33.16" fill="#2d71b0" stroke="#2a6096" stroke-width="0.5"/><rect x="468.05" y="425.19" width="4.6" height="44.21" fill="#2d71b0" stroke="#2a6096" stroke-width="0.5"/><rect x="476.23" y="432.56" width="4.6" height="36.84" fill="#2d71b0" stroke="#2a6096" stroke-width="0.5"/><rect x="484.41" y="425.19" width="4.6" height="44.21" fill="#2d71b0" stroke="#2a6096" stroke-width="0.5"/><rect x="492.60" y="417.82" width="4.6" height="51.58" fill="#2d71b0" stroke="#2a6096" stroke-width="0.5"/><rect x="500.78" y="369.93" width="4.6" height="99.47" fill="#2d71b0" stroke="#2a6096" stroke-width="0.5"/><rect x="508.96" y="377.30" width="4.6" height="92.10" fill="#2d71b0" stroke="#2a6096" stroke-width="0.5"/><rect x="517.14" y="388.35" width="4.6" height="81.05" fill="#2d71b0" stroke="#2a6096" stroke-width="0.5"/><rect x="525.33" y="369.93" width="4.6" height="99.47" fill="#2d71b0" stroke="#2a6096" stroke-width="0.5"/><rect x="533.51" y="373.62" width="4.6" height="95.78" fill="#2d71b0" stroke="#2a6096" stroke-width="0.5"/><rect x="541.69" y="358.88" width="4.6" height="110.52" fill="#2d71b0" stroke="#2a6096" stroke-width="0.5"/><rect x="549.88" y="384.67" width="4.6" height="84.73" fill="#2d71b0" stroke="#2a6096" stroke-width="0.5"/><rect x="558.06" y="369.93" width="4.6" height="99.47" fill="#2d71b0" stroke="#2a6096" stroke-width="0.5"/><rect x="566.24" y="358.88" width="4.6" height="110.52" fill="#2d71b0" stroke="#2a6096" stroke-width="0.5"/><rect x="574.43" y="373.62" width="4.6" height="95.78" fill="#2d71b0" stroke="#2a6096" stroke-width="0.5"/><rect x="582.61" y="355.20" width="4.6" height="114.20" fill="#2d71b0" stroke="#2a6096" stroke-width="0.5"/><rect x="590.79" y="362.56" width="4.6" height="106.84" fill="#2d71b0" stroke="#2a6096" stroke-width="0.5"/><rect x="598.97" y="347.83" width="4.6" height="121.57" fill="#2d71b0" stroke="#2a6096" stroke-width="0.5"/><rect x="607.16" y="358.88" width="4.6" height="110.52" fill="#2d71b0" stroke="#2a6096" stroke-width="0.5"/><rect x="615.34" y="362.56" width="4.6" height="106.84" fill="#2d71b0" stroke="#2a6096" stroke-width="0.5"/><rect x="623.52" y="362.56" width="4.6" height="106.84" fill="#2d71b0" stroke="#2a6096" stroke-width="0.5"/><rect x="631.71" y="410.46" width="4.6" height="58.94" fill="#2d71b0" stroke="#2a6096" stroke-width="0.5"/><rect x="639.89" y="414.14" width="4.6" height="55.26" fill="#2d71b0" stroke="#2a6096" stroke-width="0.5"/><rect x="648.07" y="425.19" width="4.6" height="44.21" fill="#2d71b0" stroke="#2a6096" stroke-width="0.5"/><rect x="656.26" y="417.82" width="4.6" height="51.58" fill="#2d71b0" stroke="#2a6096" stroke-width="0.5"/><rect x="664.44" y="425.19" width="4.6" height="44.21" fill="#2d71b0" stroke="#2a6096" stroke-width="0.5"/><rect x="672.62" y="425.19" width="4.6" height="44.21" fill="#2d71b0" stroke="#2a6096" stroke-width="0.5"/><rect x="680.80" y="406.77" width="4.6" height="62.63" fill="#2d71b0" stroke="#2a6096" stroke-width="0.5"/><rect x="688.99" y="414.14" width="4.6" height="55.26" fill="#2d71b0" stroke="#2a6096" stroke-width="0.5"/><rect x="697.17" y="366.25" width="4.6" height="103.15" fill="#2d71b0" stroke="#2a6096" stroke-width="0.5"/><rect x="705.35" y="355.20" width="4.6" height="114.20" fill="#2d71b0" stroke="#2a6096" stroke-width="0.5"/><rect x="713.54" y="355.20" width="4.6" height="114.20" fill="#2d71b0" stroke="#2a6096" stroke-width="0.5"/><rect x="721.72" y="366.25" width="4.6" height="103.15" fill="#2d71b0" stroke="#2a6096" stroke-width="0.5"/><rect x="729.90" y="358.88" width="4.6" height="110.52" fill="#2d71b0" stroke="#2a6096" stroke-width="0.5"/><rect x="738.09" y="373.62" width="4.6" height="95.78" fill="#2d71b0" stroke="#2a6096" stroke-width="0.5"/><rect x="746.27" y="373.62" width="4.6" height="95.78" fill="#2d71b0" stroke="#2a6096" stroke-width="0.5"/><rect x="754.45" y="377.30" width="4.6" height="92.10" fill="#2d71b0" stroke="#2a6096" stroke-width="0.5"/><rect x="762.63" y="358.88" width="4.6" height="110.52" fill="#2d71b0" stroke="#2a6096" stroke-width="0.5"/><rect x="770.82" y="380.98" width="4.6" height="88.42" fill="#2d71b0" stroke="#2a6096" stroke-width="0.5"/><rect x="779.00" y="417.82" width="4.6" height="51.58" fill="#2d71b0" stroke="#2a6096" stroke-width="0.5"/><path d="M404.88 469.4 L404.88 471.6" stroke="#b8a070" stroke-width="0.6"/><text x="404.08" y="480.7" font-size="6.3" text-anchor="middle" fill="#5a5a5a" style="font-family:'Liberation Serif',serif">18时</text><path d="M421.25 469.4 L421.25 471.6" stroke="#b8a070" stroke-width="0.6"/><text x="420.45" y="488.8" font-size="6.3" text-anchor="middle" fill="#5a5a5a" style="font-family:'Liberation Serif',serif">20时</text><path d="M437.62 469.4 L437.62 471.6" stroke="#b8a070" stroke-width="0.6"/><text x="436.81" y="480.7" font-size="6.3" text-anchor="middle" fill="#5a5a5a" style="font-family:'Liberation Serif',serif">22时</text><path d="M453.98 469.4 L453.98 471.6" stroke="#b8a070" stroke-width="0.6"/><text x="453.18" y="488.8" font-size="6.3" text-anchor="middle" fill="#5a5a5a" style="font-family:'Liberation Serif',serif">00时</text><path d="M470.35 469.4 L470.35 471.6" stroke="#b8a070" stroke-width="0.6"/><text x="469.55" y="480.7" font-size="6.3" text-anchor="middle" fill="#5a5a5a" style="font-family:'Liberation Serif',serif">02时</text><path d="M486.71 469.4 L486.71 471.6" stroke="#b8a070" stroke-width="0.6"/><text x="485.91" y="488.8" font-size="6.3" text-anchor="middle" fill="#5a5a5a" style="font-family:'Liberation Serif',serif">04时</text><path d="M503.08 469.4 L503.08 471.6" stroke="#b8a070" stroke-width="0.6"/><text x="502.28" y="480.7" font-size="6.3" text-anchor="middle" fill="#5a5a5a" style="font-family:'Liberation Serif',serif">06时</text><path d="M519.44 469.4 L519.44 471.6" stroke="#b8a070" stroke-width="0.6"/><text x="518.64" y="488.8" font-size="6.3" text-anchor="middle" fill="#5a5a5a" style="font-family:'Liberation Serif',serif">08时</text><path d="M535.81 469.4 L535.81 471.6" stroke="#b8a070" stroke-width="0.6"/><text x="535.01" y="480.7" font-size="6.3" text-anchor="middle" fill="#5a5a5a" style="font-family:'Liberation Serif',serif">10时</text><path d="M552.18 469.4 L552.18 471.6" stroke="#b8a070" stroke-width="0.6"/><text x="551.38" y="488.8" font-size="6.3" text-anchor="middle" fill="#5a5a5a" style="font-family:'Liberation Serif',serif">12时</text><path d="M568.54 469.4 L568.54 471.6" stroke="#b8a070" stroke-width="0.6"/><text x="567.74" y="480.7" font-size="6.3" text-anchor="middle" fill="#5a5a5a" style="font-family:'Liberation Serif',serif">14时</text><path d="M584.91 469.4 L584.91 471.6" stroke="#b8a070" stroke-width="0.6"/><text x="584.11" y="488.8" font-size="6.3" text-anchor="middle" fill="#5a5a5a" style="font-family:'Liberation Serif',serif">16时</text><path d="M601.27 469.4 L601.27 471.6" stroke="#b8a070" stroke-width="0.6"/><text x="600.47" y="480.7" font-size="6.3" text-anchor="middle" fill="#5a5a5a" style="font-family:'Liberation Serif',serif">18时</text><path d="M617.64 469.4 L617.64 471.6" stroke="#b8a070" stroke-width="0.6"/><text x="616.84" y="488.8" font-size="6.3" text-anchor="middle" fill="#5a5a5a" style="font-family:'Liberation Serif',serif">20时</text><path d="M634.01 469.4 L634.01 471.6" stroke="#b8a070" stroke-width="0.6"/><text x="633.21" y="480.7" font-size="6.3" text-anchor="middle" fill="#5a5a5a" style="font-family:'Liberation Serif',serif">22时</text><path d="M650.37 469.4 L650.37 471.6" stroke="#b8a070" stroke-width="0.6"/><text x="649.57" y="488.8" font-size="6.3" text-anchor="middle" fill="#5a5a5a" style="font-family:'Liberation Serif',serif">00时</text><path d="M666.74 469.4 L666.74 471.6" stroke="#b8a070" stroke-width="0.6"/><text x="665.94" y="480.7" font-size="6.3" text-anchor="middle" fill="#5a5a5a" style="font-family:'Liberation Serif',serif">02时</text><path d="M683.10 469.4 L683.10 471.6" stroke="#b8a070" stroke-width="0.6"/><text x="682.30" y="488.8" font-size="6.3" text-anchor="middle" fill="#5a5a5a" style="font-family:'Liberation Serif',serif">04时</text><path d="M699.47 469.4 L699.47 471.6" stroke="#b8a070" stroke-width="0.6"/><text x="698.67" y="480.7" font-size="6.3" text-anchor="middle" fill="#5a5a5a" style="font-family:'Liberation Serif',serif">06时</text><path d="M715.84 469.4 L715.84 471.6" stroke="#b8a070" stroke-width="0.6"/><text x="715.04" y="488.8" font-size="6.3" text-anchor="middle" fill="#5a5a5a" style="font-family:'Liberation Serif',serif">08时</text><path d="M732.20 469.4 L732.20 471.6" stroke="#b8a070" stroke-width="0.6"/><text x="731.40" y="480.7" font-size="6.3" text-anchor="middle" fill="#5a5a5a" style="font-family:'Liberation Serif',serif">10时</text><path d="M748.57 469.4 L748.57 471.6" stroke="#b8a070" stroke-width="0.6"/><text x="747.77" y="488.8" font-size="6.3" text-anchor="middle" fill="#5a5a5a" style="font-family:'Liberation Serif',serif">12时</text><path d="M764.93 469.4 L764.93 471.6" stroke="#b8a070" stroke-width="0.6"/><text x="764.13" y="480.7" font-size="6.3" text-anchor="middle" fill="#5a5a5a" style="font-family:'Liberation Serif',serif">14时</text><path d="M781.30 469.4 L781.30 471.6" stroke="#b8a070" stroke-width="0.6"/><text x="780.50" y="488.8" font-size="6.3" text-anchor="middle" fill="#5a5a5a" style="font-family:'Liberation Serif',serif">16时</text><path d="M396.70 377.30 L396.70 371.90" stroke="#6496ac" stroke-width="0.6"/><rect x="391.80" y="363.30" width="9.8" height="8.6" rx="0.5" fill="#fefefc" stroke="#6496ac" stroke-width="0.75"/><text x="396.70" y="369.95" font-size="6.4" text-anchor="middle" fill="#46505a">30</text><path d="M413.07 377.30 L413.07 371.90" stroke="#6496ac" stroke-width="0.6"/><rect x="408.17" y="363.30" width="9.8" height="8.6" rx="0.5" fill="#fefefc" stroke="#6496ac" stroke-width="0.75"/><text x="413.07" y="369.95" font-size="6.4" text-anchor="middle" fill="#46505a">30</text><path d="M429.43 392.04 L429.43 386.64" stroke="#6496ac" stroke-width="0.6"/><rect x="422.23" y="378.04" width="14.4" height="8.6" rx="0.5" fill="#fefefc" stroke="#6496ac" stroke-width="0.75"/><text x="429.43" y="384.69" font-size="6.4" text-anchor="middle" fill="#46505a">25.2</text><path d="M437.62 414.14 L437.62 408.74" stroke="#6496ac" stroke-width="0.6"/><rect x="432.72" y="400.14" width="9.8" height="8.6" rx="0.5" fill="#fefefc" stroke="#6496ac" stroke-width="0.75"/><text x="437.62" y="406.79" font-size="6.4" text-anchor="middle" fill="#46505a">18</text><path d="M445.80 428.88 L445.80 423.48" stroke="#6496ac" stroke-width="0.6"/><rect x="438.60" y="414.88" width="14.4" height="8.6" rx="0.5" fill="#fefefc" stroke="#6496ac" stroke-width="0.75"/><text x="445.80" y="421.53" font-size="6.4" text-anchor="middle" fill="#46505a">13.2</text><path d="M462.16 436.24 L462.16 430.84" stroke="#6496ac" stroke-width="0.6"/><rect x="454.96" y="422.24" width="14.4" height="8.6" rx="0.5" fill="#fefefc" stroke="#6496ac" stroke-width="0.75"/><text x="462.16" y="428.89" font-size="6.4" text-anchor="middle" fill="#46505a">10.8</text><path d="M470.35 425.19 L470.35 419.79" stroke="#6496ac" stroke-width="0.6"/><rect x="463.15" y="411.19" width="14.4" height="8.6" rx="0.5" fill="#fefefc" stroke="#6496ac" stroke-width="0.75"/><text x="470.35" y="417.84" font-size="6.4" text-anchor="middle" fill="#46505a">14.4</text><path d="M486.71 425.19 L486.71 419.79" stroke="#6496ac" stroke-width="0.6"/><rect x="479.51" y="411.19" width="14.4" height="8.6" rx="0.5" fill="#fefefc" stroke="#6496ac" stroke-width="0.75"/><text x="486.71" y="417.84" font-size="6.4" text-anchor="middle" fill="#46505a">14.4</text><path d="M503.08 369.93 L503.08 364.53" stroke="#6496ac" stroke-width="0.6"/><rect x="495.88" y="355.93" width="14.4" height="8.6" rx="0.5" fill="#fefefc" stroke="#6496ac" stroke-width="0.75"/><text x="503.08" y="362.58" font-size="6.4" text-anchor="middle" fill="#46505a">32.4</text><path d="M519.44 388.35 L519.44 382.95" stroke="#6496ac" stroke-width="0.6"/><rect x="512.24" y="374.35" width="14.4" height="8.6" rx="0.5" fill="#fefefc" stroke="#6496ac" stroke-width="0.75"/><text x="519.44" y="381.00" font-size="6.4" text-anchor="middle" fill="#46505a">26.4</text><path d="M527.63 369.93 L527.63 364.53" stroke="#6496ac" stroke-width="0.6"/><rect x="520.43" y="355.93" width="14.4" height="8.6" rx="0.5" fill="#fefefc" stroke="#6496ac" stroke-width="0.75"/><text x="527.63" y="362.58" font-size="6.4" text-anchor="middle" fill="#46505a">32.4</text><path d="M543.99 358.88 L543.99 353.48" stroke="#6496ac" stroke-width="0.6"/><rect x="539.09" y="344.88" width="9.8" height="8.6" rx="0.5" fill="#fefefc" stroke="#6496ac" stroke-width="0.75"/><text x="543.99" y="351.53" font-size="6.4" text-anchor="middle" fill="#46505a">36</text><path d="M552.18 384.67 L552.18 379.27" stroke="#6496ac" stroke-width="0.6"/><rect x="544.98" y="370.67" width="14.4" height="8.6" rx="0.5" fill="#fefefc" stroke="#6496ac" stroke-width="0.75"/><text x="552.18" y="377.32" font-size="6.4" text-anchor="middle" fill="#46505a">27.6</text><path d="M560.36 369.93 L560.36 364.53" stroke="#6496ac" stroke-width="0.6"/><rect x="553.16" y="355.93" width="14.4" height="8.6" rx="0.5" fill="#fefefc" stroke="#6496ac" stroke-width="0.75"/><text x="560.36" y="362.58" font-size="6.4" text-anchor="middle" fill="#46505a">32.4</text><path d="M568.54 358.88 L568.54 353.48" stroke="#6496ac" stroke-width="0.6"/><rect x="563.64" y="344.88" width="9.8" height="8.6" rx="0.5" fill="#fefefc" stroke="#6496ac" stroke-width="0.75"/><text x="568.54" y="351.53" font-size="6.4" text-anchor="middle" fill="#46505a">36</text><path d="M576.73 373.62 L576.73 368.22" stroke="#6496ac" stroke-width="0.6"/><rect x="569.53" y="359.62" width="14.4" height="8.6" rx="0.5" fill="#fefefc" stroke="#6496ac" stroke-width="0.75"/><text x="576.73" y="366.27" font-size="6.4" text-anchor="middle" fill="#46505a">31.2</text><path d="M584.91 355.20 L584.91 349.80" stroke="#6496ac" stroke-width="0.6"/><rect x="577.71" y="341.20" width="14.4" height="8.6" rx="0.5" fill="#fefefc" stroke="#6496ac" stroke-width="0.75"/><text x="584.91" y="347.85" font-size="6.4" text-anchor="middle" fill="#46505a">37.2</text><path d="M601.27 347.83 L601.27 342.43" stroke="#6496ac" stroke-width="0.6"/><rect x="594.07" y="333.83" width="14.4" height="8.6" rx="0.5" fill="#fefefc" stroke="#6496ac" stroke-width="0.75"/><text x="601.27" y="340.48" font-size="6.4" text-anchor="middle" fill="#46505a">39.6</text><path d="M609.46 358.88 L609.46 353.48" stroke="#6496ac" stroke-width="0.6"/><rect x="604.56" y="344.88" width="9.8" height="8.6" rx="0.5" fill="#fefefc" stroke="#6496ac" stroke-width="0.75"/><text x="609.46" y="351.53" font-size="6.4" text-anchor="middle" fill="#46505a">36</text><path d="M625.82 362.56 L625.82 357.16" stroke="#6496ac" stroke-width="0.6"/><rect x="618.62" y="348.56" width="14.4" height="8.6" rx="0.5" fill="#fefefc" stroke="#6496ac" stroke-width="0.75"/><text x="625.82" y="355.21" font-size="6.4" text-anchor="middle" fill="#46505a">34.8</text><path d="M642.19 414.14 L642.19 408.74" stroke="#6496ac" stroke-width="0.6"/><rect x="637.29" y="400.14" width="9.8" height="8.6" rx="0.5" fill="#fefefc" stroke="#6496ac" stroke-width="0.75"/><text x="642.19" y="406.79" font-size="6.4" text-anchor="middle" fill="#46505a">18</text><path d="M658.56 417.82 L658.56 412.42" stroke="#6496ac" stroke-width="0.6"/><rect x="651.36" y="403.82" width="14.4" height="8.6" rx="0.5" fill="#fefefc" stroke="#6496ac" stroke-width="0.75"/><text x="658.56" y="410.47" font-size="6.4" text-anchor="middle" fill="#46505a">16.8</text><path d="M674.92 425.19 L674.92 419.79" stroke="#6496ac" stroke-width="0.6"/><rect x="667.72" y="411.19" width="14.4" height="8.6" rx="0.5" fill="#fefefc" stroke="#6496ac" stroke-width="0.75"/><text x="674.92" y="417.84" font-size="6.4" text-anchor="middle" fill="#46505a">14.4</text><path d="M691.29 414.14 L691.29 408.74" stroke="#6496ac" stroke-width="0.6"/><rect x="686.39" y="400.14" width="9.8" height="8.6" rx="0.5" fill="#fefefc" stroke="#6496ac" stroke-width="0.75"/><text x="691.29" y="406.79" font-size="6.4" text-anchor="middle" fill="#46505a">18</text><path d="M699.47 366.25 L699.47 360.85" stroke="#6496ac" stroke-width="0.6"/><rect x="692.27" y="352.25" width="14.4" height="8.6" rx="0.5" fill="#fefefc" stroke="#6496ac" stroke-width="0.75"/><text x="699.47" y="358.90" font-size="6.4" text-anchor="middle" fill="#46505a">33.6</text><path d="M715.84 355.20 L715.84 349.80" stroke="#6496ac" stroke-width="0.6"/><rect x="708.64" y="341.20" width="14.4" height="8.6" rx="0.5" fill="#fefefc" stroke="#6496ac" stroke-width="0.75"/><text x="715.84" y="347.85" font-size="6.4" text-anchor="middle" fill="#46505a">37.2</text><path d="M732.20 358.88 L732.20 353.48" stroke="#6496ac" stroke-width="0.6"/><rect x="727.30" y="344.88" width="9.8" height="8.6" rx="0.5" fill="#fefefc" stroke="#6496ac" stroke-width="0.75"/><text x="732.20" y="351.53" font-size="6.4" text-anchor="middle" fill="#46505a">36</text><path d="M740.39 373.62 L740.39 368.22" stroke="#6496ac" stroke-width="0.6"/><rect x="733.19" y="359.62" width="14.4" height="8.6" rx="0.5" fill="#fefefc" stroke="#6496ac" stroke-width="0.75"/><text x="740.39" y="366.27" font-size="6.4" text-anchor="middle" fill="#46505a">31.2</text><path d="M756.75 377.30 L756.75 371.90" stroke="#6496ac" stroke-width="0.6"/><rect x="751.85" y="363.30" width="9.8" height="8.6" rx="0.5" fill="#fefefc" stroke="#6496ac" stroke-width="0.75"/><text x="756.75" y="369.95" font-size="6.4" text-anchor="middle" fill="#46505a">30</text><path d="M764.93 358.88 L764.93 353.48" stroke="#6496ac" stroke-width="0.6"/><rect x="760.03" y="344.88" width="9.8" height="8.6" rx="0.5" fill="#fefefc" stroke="#6496ac" stroke-width="0.75"/><text x="764.93" y="351.53" font-size="6.4" text-anchor="middle" fill="#46505a">36</text><path d="M773.12 380.98 L773.12 375.58" stroke="#6496ac" stroke-width="0.6"/><rect x="765.92" y="366.98" width="14.4" height="8.6" rx="0.5" fill="#fefefc" stroke="#6496ac" stroke-width="0.75"/><text x="773.12" y="373.63" font-size="6.4" text-anchor="middle" fill="#46505a">28.8</text><path d="M781.30 417.82 L781.30 412.42" stroke="#6496ac" stroke-width="0.6"/><rect x="774.10" y="403.82" width="14.4" height="8.6" rx="0.5" fill="#fefefc" stroke="#6496ac" stroke-width="0.75"/><text x="781.30" y="410.47" font-size="6.4" text-anchor="middle" fill="#46505a">16.8</text></svg>
<div style="left:0.00px;top:25.70px;width:1.00px;height:475.30px;background:linear-gradient(90deg,#8a8a88,#fefef6 60%);"></div>
<div style="left:798.00px;top:25.70px;width:2.00px;height:475.30px;background:linear-gradient(90deg,#fefef6 0%,#fefef6 22%,#1f2c4a 48%);"></div>
<div style="left:0.00px;top:499.00px;width:800.00px;height:2.00px;background:linear-gradient(#fefef6,#555 55%,#333);"></div>
</div></body></html>
